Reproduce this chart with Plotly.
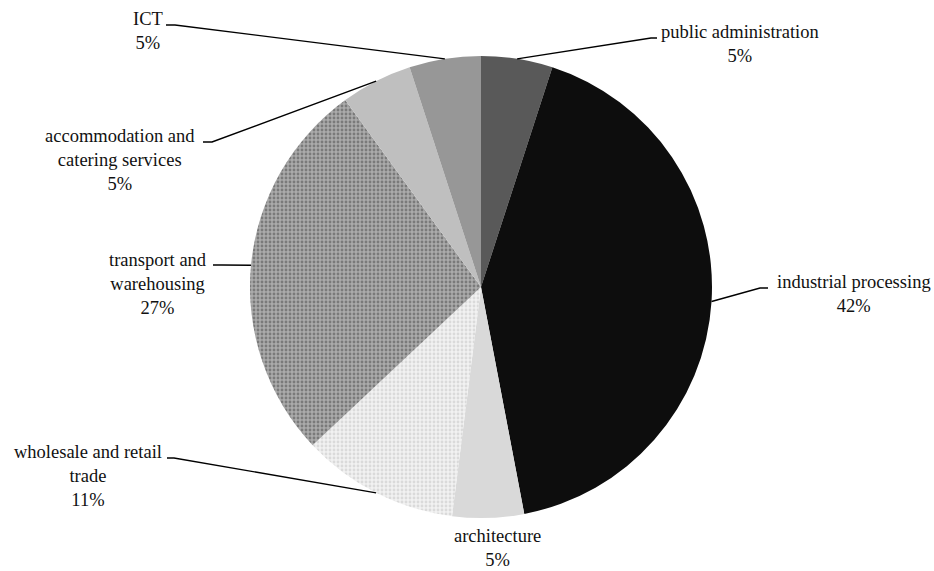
import math
import plotly.graph_objects as go

W, H = 934, 571

# Employment shares by sector (%), clockwise from 12 o'clock
sectors = [
    "public administration",
    "industrial processing",
    "architecture",
    "wholesale and retail trade",
    "transport and warehousing",
    "accommodation and catering services",
    "ICT",
]
shares = [5, 42, 5, 11, 27, 5, 5]
label_text = [
    "public administration",
    "industrial processing",
    "architecture",
    "wholesale and retail<br>trade",
    "transport and<br>warehousing",
    "accommodation and<br>catering services",
    "ICT",
]

# Slice fills: flat greys plus two speckled fills
fill_colors = ["#595959", "#0d0d0d", "#d9d9d9", "#f2f2f2", "#ababab", "#bfbfbf", "#979797"]
pattern_shapes = ["", "", "", ".", ".", "", ""]
pattern_fg = ["#595959", "#0d0d0d", "#d9d9d9", "#dadada", "#7a7a7a", "#bfbfbf", "#979797"]

# Pie placement in pixels
CX, CY, R = 481, 287, 231

# Label block centres and leader-line elbows (pixels): (label_x, label_y, elbow_x, elbow_y, tail_x)
label_layout = [
    (740, 44, 651, 38, 657),
    (854, 294, 760, 288, 768),
    (497, 548, None, None, None),
    (88, 476, 174, 458, 167),
    (158, 284, 222, 265, 213),
    (120, 160, 212, 142, 203),
    (148, 31, 175, 25, 166),
]

FONT = "Liberation Serif, Times New Roman, Times, serif"


def px(x):
    return x / W


def py(y):
    return 1 - y / H


fig = go.Figure(
    go.Pie(
        labels=sectors,
        values=shares,
        sort=False,
        direction="clockwise",
        rotation=0,
        textinfo="none",
        hoverinfo="label+percent",
        marker=dict(
            colors=fill_colors,
            line=dict(width=0),
            pattern=dict(
                shape=pattern_shapes,
                fgcolor=pattern_fg,
                bgcolor=fill_colors,
                size=4,
                solidity=0.4,
                fillmode="replace",
            ),
        ),
        domain=dict(x=[px(CX - R), px(CX + R)], y=[py(CY + R), py(CY - R)]),
        showlegend=False,
    )
)

total = sum(shares)
cum = 0.0
annotations = []
shapes = []
for value, text, (lx, ly, ex, ey, tx) in zip(shares, label_text, label_layout):
    mid = (cum + value / 2) / total * 2 * math.pi
    cum += value
    pct = round(value / total * 100)
    annotations.append(
        dict(
            x=px(lx), y=py(ly), xref="paper", yref="paper",
            text=f"{text}<br>{pct}%",
            showarrow=False, align="center",
            xanchor="center", yanchor="middle",
            font=dict(family=FONT, size=18.5, color="#111111"),
        )
    )
    if ex is None:
        continue
    sx = CX + R * math.sin(mid)
    sy = CY - R * math.cos(mid)
    path = f"M {px(sx)},{py(sy)} L {px(ex)},{py(ey)} L {px(tx)},{py(ey)}"
    shapes.append(
        dict(type="path", xref="paper", yref="paper", path=path,
             line=dict(color="#000000", width=1.4))
    )

fig.update_layout(
    width=W, height=H,
    margin=dict(l=0, r=0, t=0, b=0),
    paper_bgcolor="white",
    plot_bgcolor="white",
    font=dict(family=FONT),
    annotations=annotations,
    shapes=shapes,
)

fig.write_html("out.html")
